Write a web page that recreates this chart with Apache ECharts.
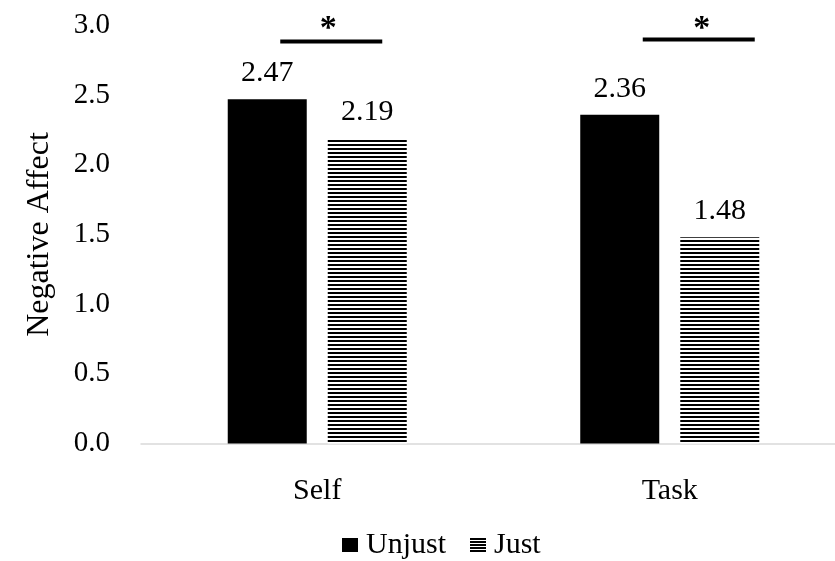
<!DOCTYPE html>
<html><head><meta charset="utf-8">
<script src="https://cdn.jsdelivr.net/npm/echarts@6/dist/echarts.min.js"></script>
<style>html,body{margin:0;padding:0;background:#fff}#c{width:835px;height:561px}</style>
</head><body><div id="c"></div>
<script>
const categories = ['Self', 'Task'];
const unjust = [2.47, 2.36];
const just = [2.19, 1.48];
const yTicks = [0, 0.5, 1.0, 1.5, 2.0, 2.5, 3.0];
const seriesNames = ['Unjust', 'Just'];
const yTitle = 'Negative Affect';

function stripes(period, black) {
  const c = document.createElement('canvas');
  c.width = 8; c.height = period;
  const g = c.getContext('2d');
  g.fillStyle = '#fff'; g.fillRect(0, 0, 8, period);
  g.fillStyle = '#000'; g.fillRect(0, 0, 8, black);
  return {image: c, repeat: 'repeat'};
}
const barPattern = stripes(4, 2);
const legendPattern = stripes(3, 2);
const FONT = 'Liberation Serif';

const chart = echarts.init(document.getElementById('c'), null, {renderer: 'canvas'});
const lbl = {show: true, position: 'top', distance: 11, color: '#000', fontFamily: FONT, fontSize: 30,
  formatter: p => p.value.toFixed(2)};
chart.setOption({
  animation: false,
  grid: {left: 141, top: 25.5, width: 705, height: 418, containLabel: false, outerBoundsMode: 'none'},
  xAxis: {type: 'category', data: categories,
    axisLine: {lineStyle: {color: '#d9d9d9', width: 1.5}}, axisTick: {show: false},
    axisLabel: {color: '#000', fontFamily: FONT, fontSize: 30, margin: 33}},
  yAxis: {type: 'value', min: yTicks[0], max: yTicks[yTicks.length - 1], interval: 0.5,
    name: yTitle, nameLocation: 'middle', nameGap: 85,
    nameTextStyle: {color: '#000', fontFamily: FONT, fontSize: 32},
    splitLine: {show: false}, axisLine: {show: false}, axisTick: {show: false},
    axisLabel: {color: '#000', fontFamily: FONT, fontSize: 29, margin: 31, formatter: v => v.toFixed(1)}},
  legend: {top: 530, left: 342, padding: 0, itemWidth: 16, itemHeight: 14, itemGap: 24,
    textStyle: {color: '#000', fontFamily: FONT, fontSize: 30, padding: [0, 0, 0, 3]},
    data: [{name: seriesNames[0], icon: 'rect', itemStyle: {color: '#000'}},
           {name: seriesNames[1], icon: 'rect', itemStyle: {color: legendPattern}}]},
  series: [
    {name: seriesNames[0], type: 'bar', data: unjust, barWidth: 79, barGap: '26.6%',
     itemStyle: {color: '#000'}, label: lbl},
    {name: seriesNames[1], type: 'bar', data: just, barWidth: 79,
     itemStyle: {color: barPattern}, label: lbl}
  ]
});

// significance annotations
const sig = [
  {cat: 'Self', x0: -37, x1: 65, y: 41.5, sx: 11},
  {cat: 'Task', x0: -27, x1: 85, y: 39.5, sx: 32}
];
const g = [];
sig.forEach(s => {
  const c = chart.convertToPixel({gridIndex: 0}, [s.cat, 0])[0];
  g.push({type: 'line', shape: {x1: c + s.x0, y1: s.y, x2: c + s.x1, y2: s.y}, style: {stroke: '#000', lineWidth: 4}});
  g.push({type: 'text', x: c + s.sx, y: 29, style: {text: '*', font: 'bold 34px "' + FONT + '"', fill: '#000', align: 'center', verticalAlign: 'middle'}});
});
chart.setOption({graphic: g});
</script></body></html>
